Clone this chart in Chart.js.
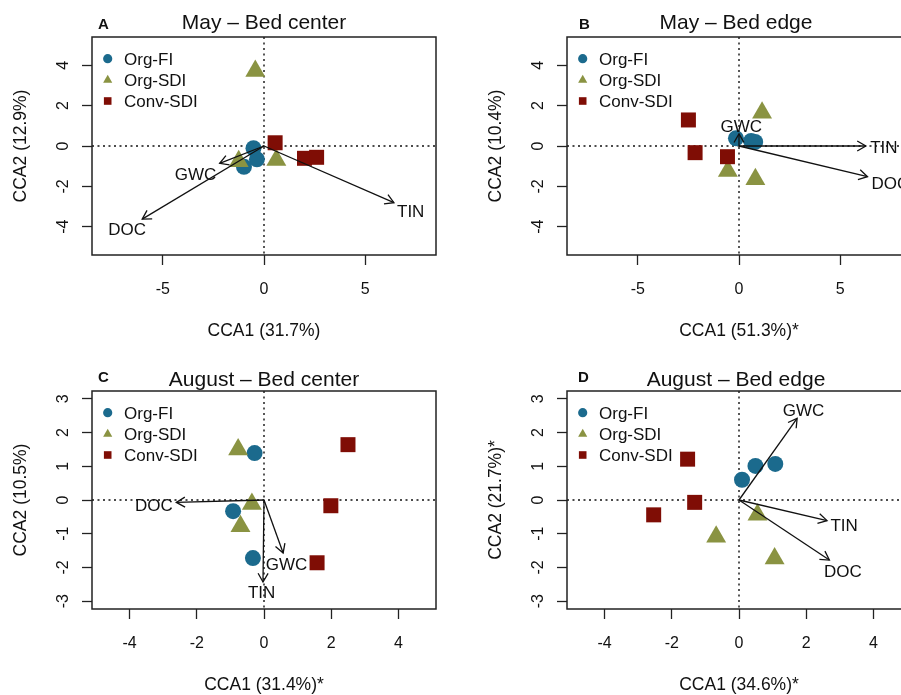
<!DOCTYPE html>
<html>
<head>
<meta charset="utf-8">
<script src="https://cdn.jsdelivr.net/npm/chart.js@4"></script>
<style>
html,body{margin:0;padding:0;background:#fff;overflow:hidden;width:901px;height:695px;}
.panel{position:absolute;width:475px;height:354px;}
canvas{display:block;}
</style>
</head>
<body>
<div class="panel" style="left:0;top:0"><canvas id="cA" width="475" height="354"></canvas></div>
<div class="panel" style="left:475px;top:0"><canvas id="cB" width="475" height="354"></canvas></div>
<div class="panel" style="left:0;top:354px"><canvas id="cC" width="475" height="354"></canvas></div>
<div class="panel" style="left:475px;top:354px"><canvas id="cD" width="475" height="354"></canvas></div>
<script>
// ---------- shared labels ----------
const seriesNames = ['Org-FI', 'Org-SDI', 'Conv-SDI'];
const panelLetters = ['A', 'B', 'C', 'D'];
const panelTitles = ['May – Bed center', 'May – Bed edge', 'August – Bed center', 'August – Bed edge'];
const xTitles = ['CCA1 (31.7%)', 'CCA1 (51.3%)*', 'CCA1 (31.4%)*', 'CCA1 (34.6%)*'];
const yTitles = ['CCA2 (12.9%)', 'CCA2 (10.4%)', 'CCA2 (10.5%)', 'CCA2 (21.7%)*'];
const vectorNames = ['GWC', 'DOC', 'TIN'];

// ---------- tick labels / axis limits ----------
const xTicksMay = [-5, 0, 5];
const yTicksMay = [-4, -2, 0, 2, 4];
const xTicksAug = [-4, -2, 0, 2, 4];
const yTicksAug = [-3, -2, -1, 0, 1, 2, 3];
const xLimMay = [-8.5, 8.5];
const yLimMay = [-5.4, 5.4];
const xLimAug = [-5.12, 5.12];
const yLimAug = [-3.23, 3.23];

// ---------- Panel A: May – Bed center ----------
const A_orgFI_x = [-0.52, -0.35, -0.99];
const A_orgFI_y = [-0.11, -0.66, -1.03];
const A_orgSDI_x = [-0.43, -1.25, 0.61];
const A_orgSDI_y = [3.72, -0.76, -0.69];
const A_convSDI_x = [0.55, 2.0, 2.6];
const A_convSDI_y = [0.16, -0.61, -0.56];
const A_vecX = [-2.19, -6.02, 6.42];
const A_vecY = [-0.86, -3.62, -2.81];
const A_labX = [-3.38, -6.76, 7.25];
const A_labY = [-1.39, -4.10, -3.22];

// ---------- Panel B: May – Bed edge ----------
const B_orgFI_x = [-0.15, 0.6, 0.8];
const B_orgFI_y = [0.38, 0.25, 0.2];
const B_orgSDI_x = [1.14, -0.55, 0.81];
const B_orgSDI_y = [1.65, -1.24, -1.65];
const B_convSDI_x = [-2.5, -2.17, -0.57];
const B_convSDI_y = [1.29, -0.33, -0.53];
const B_vecX = [0.0, 6.35, 6.27];
const B_vecY = [0.6, -1.52, 0.0];
const B_labX = [0.11, 7.48, 7.16];
const B_labY = [0.99, -1.85, -0.03];

// ---------- Panel C: August – Bed center ----------
const C_orgFI_x = [-0.28, -0.92, -0.33];
const C_orgFI_y = [1.39, -0.33, -1.72];
const C_orgSDI_x = [-0.77, -0.36, -0.7];
const C_orgSDI_y = [1.5, -0.12, -0.78];
const C_convSDI_x = [2.5, 1.99, 1.58];
const C_convSDI_y = [1.64, -0.17, -1.86];
const C_vecX = [0.57, -2.61, -0.03];
const C_vecY = [-1.57, -0.07, -2.43];
const C_labX = [0.67, -3.28, -0.07];
const C_labY = [-1.9, -0.15, -2.72];

// ---------- Panel D: August – Bed edge ----------
const D_orgFI_x = [0.09, 0.49, 1.08];
const D_orgFI_y = [0.6, 1.01, 1.07];
const D_orgSDI_x = [0.55, -0.68, 1.06];
const D_orgSDI_y = [-0.44, -1.09, -1.73];
const D_convSDI_x = [-1.53, -1.32, -2.54];
const D_convSDI_y = [1.21, -0.07, -0.44];
const D_vecX = [1.73, 2.69, 2.62];
const D_vecY = [2.42, -1.78, -0.61];
const D_labX = [1.92, 3.09, 3.13];
const D_labY = [2.67, -2.10, -0.74];

// ---------- styles ----------
const FONT = '"Liberation Sans", Arial, Helvetica, sans-serif';
const seriesColors = ['#1b6a8d', '#8a9342', '#7f0d05'];
const seriesShapes = ['circle', 'triangle', 'rect'];
const seriesRadius = [8, 11.5, 10.6];
const seriesOrder = [2, 1, 0];
const INK = '#111';

function pts(xs, ys) { return xs.map((x, i) => ({ x: x, y: ys[i] })); }

const panels = [
  { id: 'cA', series: [[A_orgFI_x, A_orgFI_y], [A_orgSDI_x, A_orgSDI_y], [A_convSDI_x, A_convSDI_y]],
    vec: [A_vecX, A_vecY, A_labX, A_labY], xT: xTicksMay, yT: yTicksMay, xL: xLimMay, yL: yLimMay,
    lay: { letterX: 98, letterY: 29.3, titleX: 264, titleY: 28.5 } },
  { id: 'cB', series: [[B_orgFI_x, B_orgFI_y], [B_orgSDI_x, B_orgSDI_y], [B_convSDI_x, B_convSDI_y]],
    vec: [B_vecX, B_vecY, B_labX, B_labY], xT: xTicksMay, yT: yTicksMay, xL: xLimMay, yL: yLimMay,
    lay: { letterX: 104, letterY: 29.3, titleX: 261, titleY: 28.5 } },
  { id: 'cC', series: [[C_orgFI_x, C_orgFI_y], [C_orgSDI_x, C_orgSDI_y], [C_convSDI_x, C_convSDI_y]],
    vec: [C_vecX, C_vecY, C_labX, C_labY], xT: xTicksAug, yT: yTicksAug, xL: xLimAug, yL: yLimAug,
    lay: { letterX: 98, letterY: 28.3, titleX: 264, titleY: 31.5 } },
  { id: 'cD', series: [[D_orgFI_x, D_orgFI_y], [D_orgSDI_x, D_orgSDI_y], [D_convSDI_x, D_convSDI_y]],
    vec: [D_vecX, D_vecY, D_labX, D_labY], xT: xTicksAug, yT: yTicksAug, xL: xLimAug, yL: yLimAug,
    lay: { letterX: 103, letterY: 28.3, titleX: 261, titleY: 31.5 } }
];

function drawArrow(ctx, x0, y0, x1, y1) {
  ctx.beginPath(); ctx.moveTo(x0, y0); ctx.lineTo(x1, y1); ctx.stroke();
  const a = Math.atan2(y1 - y0, x1 - x0), L = 10, ang = Math.PI / 6;
  ctx.beginPath();
  ctx.moveTo(x1 - L * Math.cos(a - ang), y1 - L * Math.sin(a - ang));
  ctx.lineTo(x1, y1);
  ctx.lineTo(x1 - L * Math.cos(a + ang), y1 - L * Math.sin(a + ang));
  ctx.stroke();
}

function legendMark(ctx, shape, x, y, color) {
  ctx.fillStyle = color;
  ctx.beginPath();
  if (shape === 'circle') { ctx.arc(x, y, 4.6, 0, Math.PI * 2); }
  else if (shape === 'triangle') {
    const r = 5.3;
    ctx.moveTo(x, y - r);
    ctx.lineTo(x + r * Math.sqrt(3) / 2, y + r / 2);
    ctx.lineTo(x - r * Math.sqrt(3) / 2, y + r / 2);
    ctx.closePath();
  } else { ctx.rect(x - 3.8, y - 3.8, 7.6, 7.6); }
  ctx.fill();
}

const rPlugin = {
  id: 'rstyle',
  beforeDatasetsDraw(chart, args, o) {
    const { ctx, chartArea: ca, scales } = chart;
    const x0 = scales.x.getPixelForValue(0), y0 = scales.y.getPixelForValue(0);
    ctx.save();
    ctx.strokeStyle = INK; ctx.lineWidth = 1.4; ctx.setLineDash([2, 3.5]);
    ctx.beginPath(); ctx.moveTo(x0, ca.top); ctx.lineTo(x0, ca.bottom); ctx.stroke();
    ctx.beginPath(); ctx.moveTo(ca.left, y0); ctx.lineTo(ca.right, y0); ctx.stroke();
    ctx.restore();
  },
  afterDatasetsDraw(chart, args, o) {
    const { ctx, scales } = chart;
    const p = o.panel;
    const [vx, vy, lx, ly] = p.vec;
    const ox = scales.x.getPixelForValue(0), oy = scales.y.getPixelForValue(0);
    ctx.save();
    ctx.strokeStyle = INK; ctx.lineWidth = 1.3; ctx.setLineDash([]);
    for (let i = 0; i < vx.length; i++) {
      drawArrow(ctx, ox, oy, scales.x.getPixelForValue(vx[i]), scales.y.getPixelForValue(vy[i]));
    }
    ctx.fillStyle = INK; ctx.font = '17px ' + FONT; ctx.textAlign = 'center'; ctx.textBaseline = 'alphabetic';
    for (let i = 0; i < vx.length; i++) {
      ctx.fillText(vectorNames[i], scales.x.getPixelForValue(lx[i]), scales.y.getPixelForValue(ly[i]) + 6.1);
    }
    ctx.restore();
  },
  afterDraw(chart, args, o) {
    const { ctx, chartArea: ca, scales } = chart;
    const p = o.panel, idx = o.index, lay = p.lay;
    ctx.save();
    // box
    ctx.strokeStyle = '#222'; ctx.lineWidth = 1.5;
    ctx.strokeRect(ca.left, ca.top, ca.right - ca.left, ca.bottom - ca.top);
    ctx.fillStyle = INK;
    // x tick labels
    ctx.font = '16px ' + FONT; ctx.textAlign = 'center'; ctx.textBaseline = 'alphabetic';
    p.xT.forEach(v => ctx.fillText(String(v), scales.x.getPixelForValue(v), 293.5));
    // y tick labels (rotated)
    p.yT.forEach(v => {
      ctx.save();
      ctx.translate(68, scales.y.getPixelForValue(v));
      ctx.rotate(-Math.PI / 2);
      ctx.fillText(String(v), 0, 0);
      ctx.restore();
    });
    // axis titles
    ctx.font = '17.5px ' + FONT;
    ctx.fillText(xTitles[idx], (ca.left + ca.right) / 2, 335.5);
    ctx.save();
    ctx.translate(25.5, (ca.top + ca.bottom) / 2);
    ctx.rotate(-Math.PI / 2);
    ctx.fillText(yTitles[idx], 0, 0);
    ctx.restore();
    // panel title
    ctx.font = '21px ' + FONT;
    ctx.fillText(panelTitles[idx], lay.titleX, lay.titleY);
    // panel letter
    ctx.font = 'bold 15px ' + FONT; ctx.textAlign = 'left';
    ctx.fillText(panelLetters[idx], lay.letterX, lay.letterY);
    // legend
    const rows = [58.7, 80, 101];
    ctx.font = '17px ' + FONT; ctx.textAlign = 'left';
    seriesNames.forEach((n, i) => {
      legendMark(ctx, seriesShapes[i], 107.7, rows[i], seriesColors[i]);
      ctx.fillStyle = INK;
      ctx.fillText(n, 124, rows[i] + 6.1);
    });
    ctx.restore();
  }
};

panels.forEach((p, idx) => {
  const datasets = p.series.map((s, i) => ({
    label: seriesNames[i],
    data: pts(s[0], s[1]),
    pointStyle: seriesShapes[i],
    pointRadius: seriesRadius[i],
    pointBackgroundColor: seriesColors[i],
    backgroundColor: seriesColors[i],
    pointBorderWidth: 0,
    borderWidth: 0,
    order: seriesOrder[i]
  }));
  const axisCommon = {
    type: 'linear',
    grid: { drawOnChartArea: false, drawTicks: true, tickLength: 10, tickColor: '#222', tickWidth: 1.3, color: '#222' },
    border: { display: false },
    ticks: { display: false }
  };
  new Chart(document.getElementById(p.id), {
    type: 'scatter',
    data: { datasets },
    plugins: [rPlugin],
    options: {
      responsive: false,
      animation: false,
      events: [],
      layout: { padding: { left: 0, top: 37, right: 39, bottom: 0 } },
      scales: {
        x: Object.assign({}, axisCommon, {
          position: 'bottom', min: p.xL[0], max: p.xL[1],
          afterBuildTicks: s => { s.ticks = p.xT.map(v => ({ value: v })); },
          afterFit: s => { s.height = 99; }
        }),
        y: Object.assign({}, axisCommon, {
          position: 'left', min: p.yL[0], max: p.yL[1],
          afterBuildTicks: s => { s.ticks = p.yT.map(v => ({ value: v })); },
          afterFit: s => { s.width = 92; }
        })
      },
      plugins: {
        legend: { display: false },
        tooltip: { enabled: false },
        title: { display: false },
        rstyle: { panel: p, index: idx }
      }
    }
  });
});
</script>
</body>
</html>
